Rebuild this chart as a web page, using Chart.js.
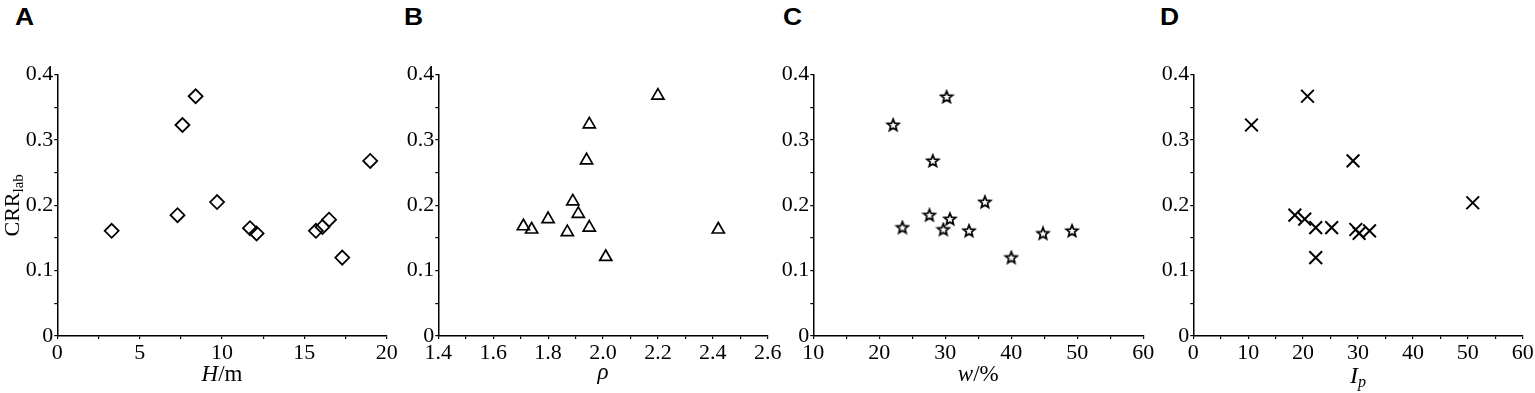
<!DOCTYPE html>
<html><head><meta charset="utf-8">
<script src="https://cdn.jsdelivr.net/npm/chart.js@4.4.0/dist/chart.umd.min.js"></script>
<style>
html,body{margin:0;padding:0;background:#fff;width:1535px;height:393px;overflow:hidden;position:relative}
.p{position:absolute;top:0;height:393px}
.lbl{position:absolute;top:6px;font:bold 23px/23px 'Liberation Sans',Arial,sans-serif;color:#000;transform:scaleX(1.15);transform-origin:left top}
</style></head><body>
<div class="lbl" style="left:15px">A</div>
<div class="lbl" style="left:404px">B</div>
<div class="lbl" style="left:783px">C</div>
<div class="lbl" style="left:1160px">D</div>
<div class="p" id="pa"><canvas id="ca"></canvas></div>
<div class="p" id="pb"><canvas id="cb"></canvas></div>
<div class="p" id="pc"><canvas id="cc"></canvas></div>
<div class="p" id="pd"><canvas id="cd"></canvas></div>
<script>
// ---- data ----
const hValues   = [3.3, 7.3, 7.6, 8.4, 9.7, 11.7, 12.1, 15.7, 16.1, 16.5, 17.3, 19.0];
const crrA      = [0.161, 0.185, 0.323, 0.367, 0.205, 0.165, 0.157, 0.161, 0.167, 0.178, 0.120, 0.268];
const rhoValues = [1.71, 1.74, 1.80, 1.87, 1.89, 1.91, 1.94, 1.95, 1.95, 2.01, 2.20, 2.42];
const crrB      = [0.168, 0.163, 0.179, 0.159, 0.206, 0.187, 0.269, 0.324, 0.166, 0.121, 0.368, 0.163];
const wValues   = [22.1, 23.5, 27.6, 28.1, 30.2, 29.7, 30.7, 33.6, 36.0, 40.0, 44.8, 49.2];
const crrC      = [0.323, 0.166, 0.185, 0.268, 0.366, 0.163, 0.179, 0.161, 0.205, 0.120, 0.157, 0.161];
const ipValues  = [10.6, 20.8, 29.1, 18.5, 20.3, 22.3, 25.2, 22.3, 29.6, 30.2, 32.1, 50.9];
const crrD      = [0.323, 0.367, 0.268, 0.185, 0.179, 0.166, 0.166, 0.120, 0.163, 0.157, 0.161, 0.204];
const yTickLabels = ['0', '0.1', '0.2', '0.3', '0.4'];

const SERIF = "'Liberation Serif','Times New Roman',serif";
const PLOT_TOP = 74.7, PLOT_BOTTOM = 336, H = 393;

function starImage(){
  const c = document.createElement('canvas');
  c.width = 16; c.height = 16;
  const g = c.getContext('2d');
  const R = 6.2, r = 2.7, cx = 8, cy = 8.3;
  g.beginPath();
  for (let i = 0; i < 10; i++){
    const a = -Math.PI/2 + i*Math.PI/5;
    const rr = i % 2 ? r : R;
    const px = cx + rr*Math.cos(a), py = cy + rr*Math.sin(a);
    i ? g.lineTo(px, py) : g.moveTo(px, py);
  }
  g.closePath();
  g.fillStyle = '#fff'; g.fill();
  g.lineWidth = 1.7; g.strokeStyle = '#000'; g.lineJoin = 'miter'; g.stroke();
  return c;
}

function drawRich(ctx, parts, x, y){
  let total = 0;
  parts.forEach(p => {
    ctx.font = (p.italic ? 'italic ' : '') + p.size + 'px ' + SERIF;
    p.w = ctx.measureText(p.t).width;
    total += p.w;
  });
  let cx = x - total/2;
  ctx.textAlign = 'left';
  ctx.textBaseline = 'alphabetic';
  ctx.fillStyle = '#000';
  parts.forEach(p => {
    ctx.font = (p.italic ? 'italic ' : '') + p.size + 'px ' + SERIF;
    ctx.fillText(p.t, cx, y + (p.dy || 0));
    cx += p.w;
  });
}

function makePanel(divId, canvasId, o){
  const div = document.getElementById(divId);
  const width = Math.ceil(o.plotRight - o.left + 16);
  div.style.left = o.left + 'px';
  div.style.width = width + 'px';
  const rightPad = width - (o.plotRight - o.left);
  const pts = o.xs.map((x, i) => ({x: x, y: o.ys[i]}));
  const titlePlugin = {
    id: 'titles',
    afterDraw(chart){
      const ctx = chart.ctx, a = chart.chartArea;
      ctx.save();
      drawRich(ctx, o.xTitle, (a.left + a.right)/2, o.xTitleY || 381);
      if (o.yTitle){
        ctx.translate(19, (a.top + a.bottom)/2);
        ctx.rotate(-Math.PI/2);
        drawRich(ctx, o.yTitle, 0, 0);
      }
      ctx.restore();
    }
  };
  new Chart(document.getElementById(canvasId), {
    type: 'scatter',
    data: { datasets: [{
      data: pts,
      pointStyle: o.pointStyle,
      pointRadius: o.radius,
      pointHoverRadius: o.radius,
      pointBorderWidth: o.borderWidth,
      pointHoverBorderWidth: o.borderWidth,
      borderColor: '#000',
      backgroundColor: 'rgba(255,255,255,0)',
      showLine: false
    }]},
    options: {
      responsive: true,
      maintainAspectRatio: false,
      animation: false,
      events: [],
      layout: { padding: { top: PLOT_TOP, right: rightPad, bottom: 0, left: 0 } },
      plugins: { legend: { display: false }, tooltip: { enabled: false } },
      scales: {
        x: {
          type: 'linear', min: o.xMin, max: o.xMax,
          afterFit(s){ s.height = H - PLOT_BOTTOM; },
          border: { color: '#000', width: 1.5 },
          grid: { drawOnChartArea: false, color: '#000', lineWidth: 1.2, tickLength: 3 },
          ticks: {
            stepSize: o.xStep, autoSkip: false, maxRotation: 0, padding: 1,
            color: '#000', font: { family: SERIF, size: 22 },
            callback: o.xLabel
          }
        },
        y: {
          type: 'linear', min: 0, max: 0.4,
          afterFit(s){ s.width = o.plotLeft - o.left; },
          border: { color: '#000', width: 1.5 },
          grid: { drawOnChartArea: false, color: '#000', lineWidth: 1.2, tickLength: 3 },
          ticks: {
            stepSize: 0.05, autoSkip: false, padding: 1,
            color: '#000', font: { family: SERIF, size: 22 },
            callback(v){
              const k = Math.round(v*10);
              return Math.abs(v*10 - k) < 1e-6 ? yTickLabels[k] : '';
            }
          }
        }
      }
    },
    plugins: [titlePlugin]
  });
}

makePanel('pa', 'ca', {
  left: 0, plotLeft: 57.3, plotRight: 386.7,
  xs: hValues, ys: crrA, xMin: 0, xMax: 20, xStep: 2.5,
  xLabel: v => (Math.abs(v % 5) < 1e-6 ? String(v) : ''),
  pointStyle: 'rectRot', radius: 7, borderWidth: 1.8,
  xTitle: [{t:'H', italic:true, size:23}, {t:'/m', size:23}],
  yTitle: [{t:'CRR', size:22}, {t:'lab', size:15, dy:4}]
});
makePanel('pb', 'cb', {
  left: 395, plotLeft: 438.3, plotRight: 767.7,
  xs: rhoValues, ys: crrB, xMin: 1.4, xMax: 2.6, xStep: 0.1,
  xLabel: v => { const k = Math.round(v*5); return Math.abs(v*5 - k) < 1e-6 ? (k/5).toFixed(1) : ''; },
  pointStyle: 'triangle', radius: 7, borderWidth: 1.7,
  xTitle: [{t:'ρ', italic:true, size:23}], xTitleY: 379
});
makePanel('pc', 'cc', {
  left: 775, plotLeft: 813.3, plotRight: 1143.3,
  xs: wValues, ys: crrC, xMin: 10, xMax: 60, xStep: 5,
  xLabel: v => (Math.abs(v % 10) < 1e-6 ? String(v) : ''),
  pointStyle: starImage(), radius: 6, borderWidth: 1.7,
  xTitle: [{t:'w', italic:true, size:23}, {t:'/%', size:23}]
});
makePanel('pd', 'cd', {
  left: 1155, plotLeft: 1193.3, plotRight: 1522.7,
  xs: ipValues, ys: crrD, xMin: 0, xMax: 60, xStep: 5,
  xLabel: v => (Math.abs(v % 10) < 1e-6 ? String(v) : ''),
  pointStyle: 'crossRot', radius: 9, borderWidth: 2,
  xTitle: [{t:'I', italic:true, size:24}, {t:'p', italic:true, size:16, dy:4}], xTitleY: 383
});
</script>
</body></html>
